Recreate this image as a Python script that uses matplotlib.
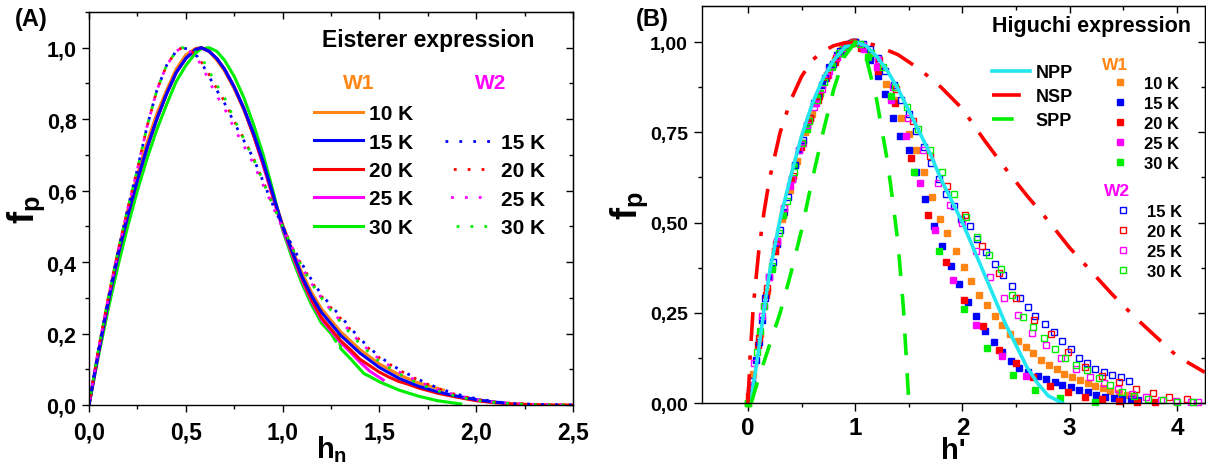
import matplotlib
matplotlib.use('Agg')
from matplotlib import pyplot as plt
from matplotlib.ticker import MultipleLocator, FuncFormatter

plt.rcParams['font.family'] = ['Liberation Sans', 'DejaVu Sans']
plt.rcParams['font.weight'] = 'bold'
plt.rcParams['axes.labelweight'] = 'bold'
plt.rcParams['mathtext.fontset'] = 'custom'
plt.rcParams['mathtext.rm'] = 'Liberation Sans:bold'
plt.rcParams['mathtext.it'] = 'Liberation Sans:bold'
plt.rcParams['mathtext.bf'] = 'Liberation Sans:bold'

ORANGE = '#FF8515'
BLUE = '#0000FF'
RED = '#FF0000'
MAGENTA = '#FF00FF'
GREEN = '#00EE00'
CYAN = '#22E6F0'

# ---------------- (A) Eisterer expression ----------------
hn_rise = [0.00, 0.05, 0.10, 0.15, 0.20, 0.25, 0.30, 0.35, 0.40, 0.45, 0.50, 0.55, 0.58,
           0.62, 0.66, 0.70, 0.75, 0.80, 0.85, 0.90, 0.95, 1.00, 1.05, 1.10, 1.15, 1.20]

w1_10_fp = [0, 0.155, 0.30, 0.43, 0.545, 0.645, 0.735, 0.815, 0.88, 0.94, 0.98, 0.998, 1.0,
            0.99, 0.965, 0.935, 0.885, 0.825, 0.755, 0.675, 0.59, 0.505, 0.435, 0.37, 0.315, 0.27]
w1_10_hn_tail = [1.30, 1.40, 1.50, 1.60, 1.70, 1.83]
w1_10_fp_tail = [0.205, 0.155, 0.115, 0.085, 0.062, 0.042]

w1_15_fp = [0, 0.15, 0.29, 0.42, 0.53, 0.63, 0.72, 0.80, 0.87, 0.93, 0.97, 0.995, 1.0,
            0.99, 0.97, 0.94, 0.89, 0.83, 0.76, 0.68, 0.59, 0.50, 0.43, 0.36, 0.305, 0.26]
w1_15_hn_tail = [1.30, 1.40, 1.50, 1.60, 1.70, 1.80, 1.90, 2.00, 2.10, 2.14]
w1_15_fp_tail = [0.195, 0.145, 0.105, 0.075, 0.053, 0.037, 0.025, 0.015, 0.008, 0.006]

w1_20_fp = [0, 0.15, 0.29, 0.42, 0.53, 0.63, 0.72, 0.80, 0.87, 0.93, 0.97, 0.995, 1.0,
            0.99, 0.97, 0.94, 0.89, 0.83, 0.755, 0.675, 0.585, 0.50, 0.425, 0.355, 0.295, 0.245]
w1_20_hn_tail = [1.30, 1.35, 1.40, 1.45, 1.50, 1.55, 1.60, 1.65, 1.70, 1.80, 1.90,
                 2.00, 2.10, 2.20, 2.30, 2.40, 2.50]
w1_20_fp_tail = [0.18, 0.155, 0.128, 0.11, 0.092, 0.078, 0.066, 0.058, 0.048, 0.033, 0.022,
                 0.012, 0.006, 0.003, 0.001, 0.0, 0.0]

w1_25_fp = [0, 0.15, 0.29, 0.42, 0.53, 0.63, 0.72, 0.80, 0.87, 0.93, 0.97, 0.995, 1.0,
            0.99, 0.97, 0.94, 0.89, 0.83, 0.755, 0.67, 0.58, 0.495, 0.42, 0.35, 0.29, 0.24]
w1_25_hn_tail = [1.30, 1.35, 1.40, 1.45, 1.52]
w1_25_fp_tail = [0.175, 0.148, 0.12, 0.095, 0.07]

w1_30_fp = [0, 0.14, 0.27, 0.39, 0.50, 0.60, 0.69, 0.77, 0.84, 0.905, 0.95, 0.985, 0.997,
            1.0, 0.99, 0.965, 0.92, 0.86, 0.785, 0.70, 0.60, 0.49, 0.41, 0.34, 0.28, 0.23]
w1_30_hn_tail = [1.25, 1.275, 1.29, 1.30, 1.35, 1.40, 1.42, 1.45, 1.50, 1.60, 1.70, 1.80, 1.92]
w1_30_fp_tail = [0.20, 0.178, 0.198, 0.158, 0.13, 0.10, 0.088, 0.08, 0.065, 0.042, 0.025, 0.012, 0.003]

hn_w2 = [0, 0.05, 0.10, 0.15, 0.20, 0.25, 0.30, 0.35, 0.40, 0.45, 0.48, 0.52, 0.56, 0.60,
         0.65, 0.70, 0.75, 0.80, 0.85, 0.90, 0.95, 1.00, 1.05, 1.10, 1.15, 1.20, 1.25, 1.30,
         1.40, 1.50, 1.60, 1.70, 1.80, 1.90, 2.00, 2.10, 2.20, 2.30, 2.40, 2.50]
w2_15_fp = [0, 0.16, 0.30, 0.43, 0.55, 0.66, 0.78, 0.88, 0.95, 0.99, 1.0, 0.995, 0.975, 0.94,
            0.89, 0.845, 0.79, 0.74, 0.69, 0.625, 0.56, 0.50, 0.445, 0.395, 0.35, 0.31, 0.278, 0.248,
            0.185, 0.135, 0.10, 0.072, 0.048, 0.03, 0.018, 0.009, 0.004, 0.002, 0.001, 0.0]
w2_20_fp = [0, 0.16, 0.30, 0.43, 0.55, 0.66, 0.78, 0.88, 0.95, 0.99, 1.0, 0.995, 0.975, 0.945,
            0.895, 0.85, 0.795, 0.745, 0.69, 0.625, 0.56, 0.50, 0.44, 0.39, 0.345, 0.305, 0.272, 0.242,
            0.18, 0.132, 0.098, 0.07, 0.046, 0.028, 0.016, 0.008, 0.004, 0.002, 0.001, 0.0]
w2_25_fp = [0, 0.16, 0.30, 0.43, 0.55, 0.66, 0.78, 0.88, 0.95, 0.99, 1.0, 0.99, 0.97, 0.93,
            0.875, 0.83, 0.775, 0.725, 0.675, 0.615, 0.555, 0.495, 0.44, 0.385, 0.34, 0.30, 0.265, 0.235,
            0.175, 0.128, 0.093, 0.066, 0.044, 0.027, 0.015, 0.008, 0.004, 0.002, 0.001, 0.0]
w2_30_fp = [0, 0.16, 0.30, 0.43, 0.55, 0.66, 0.78, 0.88, 0.95, 0.99, 1.0, 0.998, 0.985, 0.955,
            0.905, 0.86, 0.80, 0.745, 0.69, 0.625, 0.56, 0.50, 0.44, 0.385, 0.34, 0.30, 0.265, 0.232,
            0.17, 0.122, 0.088, 0.06, 0.04, 0.024, 0.013, 0.007, 0.003, 0.001, 0.0, 0.0]

# ---------------- (B) Higuchi expression ----------------
npp_h = [0.02, 0.06, 0.10, 0.15, 0.20, 0.30, 0.40, 0.50, 0.60, 0.70, 0.80, 0.90, 1.00, 1.10,
         1.20, 1.30, 1.40, 1.50, 1.60, 1.70, 1.80, 1.90, 2.00, 2.10, 2.20, 2.30, 2.40, 2.50,
         2.60, 2.70, 2.80, 2.93]
npp_fp = [0.0, 0.07, 0.15, 0.26, 0.36, 0.51, 0.63, 0.74, 0.83, 0.90, 0.95, 0.985, 1.0, 0.99,
          0.96, 0.92, 0.87, 0.81, 0.75, 0.69, 0.62, 0.56, 0.50, 0.43, 0.36, 0.29, 0.22, 0.16,
          0.10, 0.055, 0.02, 0.0]

nsp_h = [0.0, 0.02, 0.05, 0.10, 0.15, 0.20, 0.30, 0.40, 0.50, 0.60, 0.70, 0.80, 0.90, 1.00,
         1.10, 1.20, 1.40, 1.60, 1.80, 2.00, 2.20, 2.40, 2.60, 2.80, 3.00, 3.20, 3.40, 3.60,
         3.80, 4.00, 4.26]
nsp_fp = [0.0, 0.13, 0.27, 0.42, 0.53, 0.62, 0.75, 0.84, 0.905, 0.95, 0.975, 0.99, 0.998, 1.0,
          0.998, 0.99, 0.965, 0.925, 0.875, 0.815, 0.73, 0.65, 0.575, 0.505, 0.43, 0.365, 0.30,
          0.24, 0.185, 0.13, 0.085]

spp_h = [0.03, 0.10, 0.20, 0.30, 0.40, 0.50, 0.60, 0.70, 0.80, 0.90, 1.00, 1.10, 1.20, 1.30,
         1.35, 1.40, 1.45, 1.50]
spp_fp = [0.0, 0.07, 0.16, 0.25, 0.36, 0.48, 0.62, 0.75, 0.87, 0.96, 1.0, 0.96, 0.84, 0.67,
          0.56, 0.44, 0.26, 0.0]

# W1 (filled squares)
b_w1_10_h = [0.00, 0.05, 0.11, 0.18, 0.25, 0.32, 0.39, 0.46, 0.53, 0.60, 0.67, 0.74, 0.81, 0.88,
             0.94, 1.00, 1.07, 1.14, 1.22, 1.29, 1.36, 1.43, 1.50, 1.57, 1.64, 1.72, 1.79, 1.86,
             1.94, 2.01, 2.08, 2.15, 2.23, 2.30, 2.37, 2.44, 2.52, 2.59, 2.66, 2.73, 2.81, 2.88,
             2.95, 3.02, 3.10, 3.17, 3.24, 3.31, 3.38, 3.46, 3.53, 3.60]
b_w1_10_fp = [0.00, 0.08, 0.19, 0.31, 0.42, 0.51, 0.59, 0.67, 0.75, 0.80, 0.86, 0.91, 0.95, 0.98,
              0.995, 1.00, 0.99, 0.965, 0.93, 0.885, 0.84, 0.79, 0.745, 0.70, 0.64, 0.57, 0.51, 0.47,
              0.42, 0.377, 0.339, 0.30, 0.271, 0.24, 0.216, 0.19, 0.173, 0.155, 0.138, 0.12, 0.106, 0.093,
              0.08, 0.072, 0.065, 0.056, 0.048, 0.041, 0.034, 0.028, 0.022, 0.017]

b_w1_15_h = [0.02, 0.07, 0.13, 0.20, 0.27, 0.34, 0.41, 0.48, 0.55, 0.62, 0.69, 0.76, 0.83, 0.90,
             0.96, 1.00, 1.07, 1.14, 1.21, 1.28, 1.35, 1.42, 1.50, 1.57, 1.65, 1.73, 1.81, 1.89,
             1.97, 2.05, 2.13, 2.21, 2.29, 2.37, 2.45, 2.53, 2.61, 2.70, 2.78, 2.86, 2.93, 3.01,
             3.09, 3.17, 3.25, 3.33, 3.41, 3.49, 3.57, 3.64]
b_w1_15_fp = [0.03, 0.12, 0.23, 0.35, 0.44, 0.53, 0.62, 0.70, 0.77, 0.83, 0.88, 0.93, 0.965, 0.985,
              0.998, 1.00, 0.985, 0.95, 0.905, 0.855, 0.79, 0.74, 0.70, 0.64, 0.565, 0.49, 0.435, 0.38,
              0.33, 0.28, 0.24, 0.20, 0.17, 0.14, 0.117, 0.097, 0.085, 0.075, 0.066, 0.058, 0.05, 0.043,
              0.036, 0.03, 0.023, 0.018, 0.014, 0.012, 0.01, 0.008]

b_w1_20_h = [0.01, 0.09, 0.17, 0.25, 0.33, 0.41, 0.49, 0.57, 0.65, 0.73, 0.81, 0.89, 0.97, 1.05,
             1.21, 1.37, 1.52, 1.68, 1.85, 2.01, 2.19, 2.34, 2.50, 2.66, 2.82, 2.98, 3.14, 3.30,
             3.46, 3.63, 3.80]
b_w1_20_fp = [0.02, 0.16, 0.30, 0.42, 0.52, 0.62, 0.71, 0.78, 0.84, 0.90, 0.945, 0.975, 0.998, 0.985,
              0.92, 0.83, 0.68, 0.52, 0.39, 0.285, 0.214, 0.147, 0.11, 0.072, 0.047, 0.03, 0.017, 0.01,
              0.006, 0.004, 0.002]

b_w1_25_h = [0.03, 0.15, 0.27, 0.39, 0.51, 0.63, 0.75, 0.87, 0.98, 1.08, 1.20, 1.33, 1.47, 1.60,
             1.74, 1.91, 2.13, 2.37, 2.59]
b_w1_25_fp = [0.05, 0.27, 0.45, 0.60, 0.72, 0.83, 0.91, 0.97, 1.00, 0.98, 0.93, 0.84, 0.74, 0.61,
              0.48, 0.34, 0.216, 0.129, 0.074]

b_w1_30_h = [0.00, 0.11, 0.22, 0.33, 0.44, 0.55, 0.67, 0.78, 0.89, 1.00, 1.12, 1.33, 1.55, 1.78,
             2.01, 2.23, 2.47, 2.68, 2.91, 3.24]
b_w1_30_fp = [0.00, 0.20, 0.37, 0.52, 0.66, 0.76, 0.86, 0.93, 0.98, 1.00, 0.96, 0.85, 0.64, 0.42,
              0.26, 0.152, 0.078, 0.036, 0.014, 0.002]

# W2 (open squares)
b_w2_15_h = [0.04, 0.10, 0.16, 0.23, 0.30, 0.37, 0.44, 0.51, 0.58, 0.65, 0.72, 0.79, 0.86, 0.93,
             1.00, 1.07, 1.14, 1.21, 1.28, 1.36, 1.43, 1.50, 1.57, 1.64, 1.71, 1.78, 1.85, 1.92,
             1.99, 2.07, 2.14, 2.22, 2.30, 2.38, 2.46, 2.54, 2.61, 2.68, 2.77, 2.85, 2.93, 3.01,
             3.09, 3.16, 3.24, 3.32, 3.39, 3.48, 3.55]
b_w2_15_fp = [0.06, 0.17, 0.29, 0.39, 0.48, 0.57, 0.66, 0.73, 0.79, 0.85, 0.90, 0.94, 0.975, 0.995,
              1.00, 0.995, 0.98, 0.955, 0.92, 0.88, 0.84, 0.80, 0.755, 0.71, 0.665, 0.62, 0.58, 0.545,
              0.51, 0.49, 0.455, 0.418, 0.385, 0.354, 0.323, 0.292, 0.265, 0.242, 0.22, 0.196, 0.172, 0.15,
              0.125, 0.11, 0.095, 0.085, 0.078, 0.072, 0.062]

b_w2_20_h = [0.02, 0.10, 0.18, 0.26, 0.34, 0.42, 0.50, 0.58, 0.66, 0.74, 0.82, 0.90, 0.98, 1.06,
             1.22, 1.38, 1.54, 1.70, 1.86, 2.02, 2.18, 2.34, 2.50, 2.67, 2.83, 2.98, 3.14, 3.30,
             3.46, 3.62, 3.78, 3.93, 4.09]
b_w2_20_fp = [0.04, 0.18, 0.32, 0.44, 0.54, 0.63, 0.72, 0.79, 0.85, 0.91, 0.955, 0.985, 1.00, 0.99,
              0.95, 0.87, 0.78, 0.685, 0.60, 0.52, 0.435, 0.36, 0.29, 0.23, 0.19, 0.14, 0.099, 0.076,
              0.057, 0.04, 0.027, 0.018, 0.012]

b_w2_25_h = [0.06, 0.13, 0.20, 0.27, 0.34, 0.41, 0.48, 0.55, 0.62, 0.69, 0.76, 0.83, 0.90, 0.97,
             1.07, 1.21, 1.35, 1.49, 1.63, 1.77, 1.88, 2.00, 2.13, 2.26, 2.39, 2.52, 2.65, 2.78,
             2.92, 3.06, 3.19, 3.32, 3.45, 3.58, 3.71, 3.85, 3.99, 4.13, 4.20]
b_w2_25_fp = [0.11, 0.24, 0.35, 0.45, 0.54, 0.62, 0.70, 0.77, 0.82, 0.87, 0.92, 0.96, 0.985, 0.998,
              0.99, 0.95, 0.875, 0.79, 0.70, 0.61, 0.55, 0.498, 0.42, 0.35, 0.29, 0.245, 0.195, 0.16,
              0.126, 0.095, 0.072, 0.055, 0.04, 0.025, 0.016, 0.008, 0.005, 0.004, 0.003]

b_w2_30_h = [0.00, 0.08, 0.15, 0.22, 0.29, 0.36, 0.43, 0.50, 0.57, 0.64, 0.71, 0.78, 0.85, 0.92,
             0.97, 1.04, 1.15, 1.26, 1.37, 1.48, 1.59, 1.70, 1.81, 1.92, 2.03, 2.14, 2.25, 2.36,
             2.46, 2.56, 2.66, 2.76, 2.86, 2.96, 3.06, 3.16, 3.27, 3.38, 3.49, 3.60, 3.73, 3.87,
             4.00, 4.15]
b_w2_30_fp = [0.00, 0.14, 0.27, 0.38, 0.47, 0.56, 0.64, 0.72, 0.78, 0.84, 0.89, 0.935, 0.97, 0.99,
              0.998, 0.995, 0.97, 0.93, 0.875, 0.82, 0.76, 0.70, 0.64, 0.58, 0.515, 0.46, 0.41, 0.37,
              0.30, 0.237, 0.21, 0.18, 0.15, 0.125, 0.105, 0.092, 0.07, 0.05, 0.03, 0.02, 0.011, 0.007,
              0.004, 0.003]


def comma_fmt(decimals):
    return FuncFormatter(lambda v, p: f'{v:.{decimals}f}'.replace('.', ','))


def style_axes(ax, xmaj, xmin, ymaj, ymin, xdec, ydec, xsize, ysize, xpad, ypad, ylen):
    ax.xaxis.set_major_locator(MultipleLocator(xmaj))
    ax.xaxis.set_minor_locator(MultipleLocator(xmin))
    ax.yaxis.set_major_locator(MultipleLocator(ymaj))
    ax.yaxis.set_minor_locator(MultipleLocator(ymin))
    ax.xaxis.set_major_formatter(comma_fmt(xdec))
    ax.yaxis.set_major_formatter(comma_fmt(ydec))
    ax.tick_params(which='both', direction='out', width=1.0)
    ax.tick_params(which='major', length=ylen)
    ax.tick_params(which='minor', length=3)
    ax.tick_params(axis='x', which='major', labelsize=xsize, pad=xpad)
    ax.tick_params(axis='y', which='major', labelsize=ysize, pad=ypad)
    for sp in ax.spines.values():
        sp.set_linewidth(1.0)
    top = ax.secondary_xaxis('top')
    top.xaxis.set_major_locator(MultipleLocator(xmaj))
    top.xaxis.set_minor_locator(MultipleLocator(xmin))
    top.tick_params(which='both', direction='in', labeltop=False, width=1.0)
    top.tick_params(which='major', length=5)
    top.tick_params(which='minor', length=3)
    right = ax.secondary_yaxis('right')
    right.yaxis.set_major_locator(MultipleLocator(ymaj))
    right.yaxis.set_minor_locator(MultipleLocator(ymin))
    right.tick_params(which='both', direction='in', labelright=False, width=1.0)
    right.tick_params(which='major', length=5)
    right.tick_params(which='minor', length=3)


fig = plt.figure(figsize=(12.06, 4.64), dpi=100)

# ---------- panel A ----------
ax1 = fig.add_axes([0.0738, 0.125, 0.4013, 0.847])
lw = 2.2
l10, = ax1.plot(hn_rise + w1_10_hn_tail, w1_10_fp + w1_10_fp_tail, c=ORANGE, lw=lw, label='10 K')
l30, = ax1.plot(hn_rise + w1_30_hn_tail, w1_30_fp + w1_30_fp_tail, c=GREEN, lw=lw, label='30 K')
l25, = ax1.plot(hn_rise + w1_25_hn_tail, w1_25_fp + w1_25_fp_tail, c=MAGENTA, lw=lw, label='25 K')
l20, = ax1.plot(hn_rise + w1_20_hn_tail, w1_20_fp + w1_20_fp_tail, c=RED, lw=lw, label='20 K')
l15, = ax1.plot(hn_rise + w1_15_hn_tail, w1_15_fp + w1_15_fp_tail, c=BLUE, lw=lw, label='15 K')

d15, = ax1.plot(hn_w2, w2_15_fp, c=BLUE, lw=2.0, ls=(0, (1, 4)), label='15 K')
d20, = ax1.plot(hn_w2, w2_20_fp, c=RED, lw=2.0, ls=(2, (1, 4)), label='20 K')
d25, = ax1.plot(hn_w2, w2_25_fp, c=MAGENTA, lw=2.0, ls=(3, (1, 4)), label='25 K')
d30, = ax1.plot(hn_w2, w2_30_fp, c=GREEN, lw=2.0, ls=(1, (1, 4)), label='30 K')

ax1.set_xlim(0, 2.5)
ax1.set_ylim(0, 1.1)
style_axes(ax1, 0.5, 0.25, 0.2, 0.1, 1, 1, 16.5, 15.5, 6, 4, 5)
ax1.set_xlabel('$h_n$', fontsize=21, labelpad=-7)
ax1.set_ylabel('$f_p$', fontsize=26, labelpad=0)

ax1.text(0.7, 0.93, 'Eisterer expression', transform=ax1.transAxes, fontsize=16.5,
         ha='center', va='center')
ax1.text(0.557, 0.82, 'W1', transform=ax1.transAxes, fontsize=15, color=ORANGE,
         ha='center', va='center')
ax1.text(0.83, 0.82, 'W2', transform=ax1.transAxes, fontsize=15, color=MAGENTA,
         ha='center', va='center')
leg1 = ax1.legend(handles=[l10, l15, l20, l25, l30], loc='upper left',
                  bbox_to_anchor=(0.465, 0.765), frameon=False, fontsize=15,
                  handlelength=2.35, handletextpad=0.3, labelspacing=0.45,
                  borderpad=0, borderaxespad=0)
ax1.add_artist(leg1)
ax1.legend(handles=[d15, d20, d25, d30], loc='upper left',
           bbox_to_anchor=(0.736, 0.692), frameon=False, fontsize=15,
           handlelength=2.2, handletextpad=0.5, labelspacing=0.45,
           borderpad=0, borderaxespad=0)

# ---------- panel B ----------
ax2 = fig.add_axes([0.582, 0.1293, 0.417, 0.8556])
kw = dict(ls='none', marker='s', ms=4.3, clip_on=False)
m10, = ax2.plot(b_w1_10_h, b_w1_10_fp, color=ORANGE, mec=ORANGE, label='10 K', **kw)
m15, = ax2.plot(b_w1_15_h, b_w1_15_fp, color=BLUE, mec=BLUE, label='15 K', **kw)
m20, = ax2.plot(b_w1_20_h, b_w1_20_fp, color=RED, mec=RED, label='20 K', **kw)
m25, = ax2.plot(b_w1_25_h, b_w1_25_fp, color=MAGENTA, mec=MAGENTA, label='25 K', **kw)
m30, = ax2.plot(b_w1_30_h, b_w1_30_fp, color=GREEN, mec=GREEN, label='30 K', **kw)
o15, = ax2.plot(b_w2_15_h, b_w2_15_fp, mfc='none', mec=BLUE, mew=1.0, label='15 K', **kw)
o20, = ax2.plot(b_w2_20_h, b_w2_20_fp, mfc='none', mec=RED, mew=1.0, label='20 K', **kw)
o25, = ax2.plot(b_w2_25_h, b_w2_25_fp, mfc='none', mec=MAGENTA, mew=1.0, label='25 K', **kw)
o30, = ax2.plot(b_w2_30_h, b_w2_30_fp, mfc='none', mec=GREEN, mew=1.0, label='30 K', **kw)

c_npp, = ax2.plot(npp_h, npp_fp, c=CYAN, lw=2.6, label='NPP')
c_nsp, = ax2.plot(nsp_h, nsp_fp, c=RED, lw=2.6, ls=(0, (8, 4, 1.2, 4)), label='NSP')
c_spp, = ax2.plot(spp_h, spp_fp, c=GREEN, lw=2.6, ls=(0, (6, 5)), label='SPP')

ax2.set_xlim(-0.43, 4.26)
ax2.set_ylim(0, 1.1)
style_axes(ax2, 1, 0.5, 0.25, 0.125, 0, 2, 17.5, 14, 3, 4, 6)
ax2.set_xlabel("h'", fontsize=21, fontweight='bold', labelpad=-2)
ax2.set_ylabel('$f_p$', fontsize=26, labelpad=0)

ax2.text(0.775, 0.95, 'Higuchi expression', transform=ax2.transAxes, fontsize=15.5,
         ha='center', va='center')
ax2.text(0.822, 0.852, 'W1', transform=ax2.transAxes, fontsize=12.5, color=ORANGE,
         ha='center', va='center')
ax2.text(0.825, 0.535, 'W2', transform=ax2.transAxes, fontsize=12.5, color=MAGENTA,
         ha='center', va='center')
leg_a = ax2.legend(handles=[c_npp, c_nsp, c_spp], loc='upper left',
                   bbox_to_anchor=(0.577, 0.853), frameon=False, fontsize=13,
                   handlelength=2.1, handletextpad=0.3, labelspacing=0.38,
                   borderpad=0, borderaxespad=0)
ax2.add_artist(leg_a)
leg_b = ax2.legend(handles=[m10, m15, m20, m25, m30], loc='upper left',
                   bbox_to_anchor=(0.815, 0.824), frameon=False, fontsize=12,
                   handlelength=1.0, handletextpad=0.95, labelspacing=0.3,
                   borderpad=0, borderaxespad=0)
ax2.add_artist(leg_b)
ax2.legend(handles=[o15, o20, o25, o30], loc='upper left',
           bbox_to_anchor=(0.821, 0.502), frameon=False, fontsize=12,
           handlelength=1.0, handletextpad=0.95, labelspacing=0.3,
           borderpad=0, borderaxespad=0)

fig.text(0.026, 0.957, '(A)', fontsize=17, ha='center', va='center')
fig.text(0.541, 0.957, '(B)', fontsize=17, ha='center', va='center')

fig.savefig('out.png', dpi=100)
